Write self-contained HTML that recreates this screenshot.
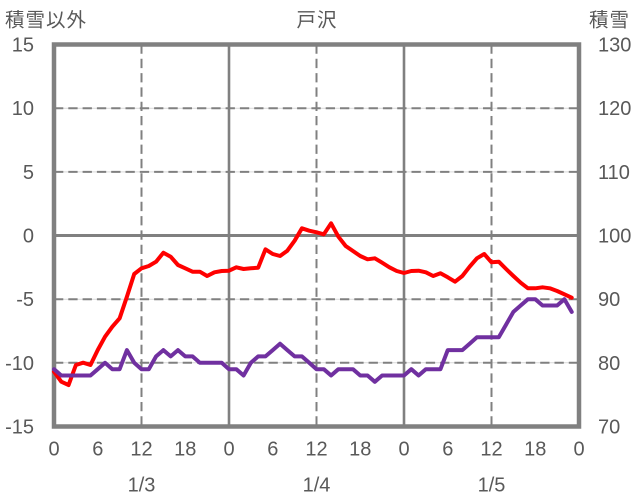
<!DOCTYPE html>
<html><head><meta charset="utf-8"><style>
html,body{margin:0;padding:0;background:#fff;}
svg{display:block;}
text{font-family:"Liberation Sans","Noto Sans CJK JP",sans-serif;fill:#595959;}
</style></head><body>
<svg width="636" height="501" viewBox="0 0 636 501" xmlns="http://www.w3.org/2000/svg">
<rect width="636" height="501" fill="#fff"/>
<!-- light underlying grid -->
<g stroke="#d9d9d9" stroke-width="1">
<line x1="54" y1="108.2" x2="579" y2="108.2"/>
<line x1="54" y1="171.9" x2="579" y2="171.9"/>
<line x1="54" y1="299.2" x2="579" y2="299.2"/>
<line x1="54" y1="362.8" x2="579" y2="362.8"/>
</g>
<!-- dashed grid -->
<g stroke="#808080" stroke-width="2" stroke-dasharray="9.3,5">
<line x1="54" y1="108.2" x2="579" y2="108.2"/>
<line x1="54" y1="171.9" x2="579" y2="171.9"/>
<line x1="54" y1="299.2" x2="579" y2="299.2"/>
<line x1="54" y1="362.8" x2="579" y2="362.8"/>
<line x1="141.5" y1="44.5" x2="141.5" y2="426.5"/>
<line x1="316.5" y1="44.5" x2="316.5" y2="426.5"/>
<line x1="491.5" y1="44.5" x2="491.5" y2="426.5"/>
</g>
<!-- solid grid -->
<g stroke="#808080">
<line x1="229" y1="44.5" x2="229" y2="426.5" stroke-width="2.6"/>
<line x1="404" y1="44.5" x2="404" y2="426.5" stroke-width="2.6"/>
<line x1="54" y1="235.5" x2="579" y2="235.5" stroke-width="3"/>
</g>
<!-- border -->
<rect x="54" y="44.5" width="525" height="382" fill="none" stroke="#808080" stroke-width="4.5"/>

<!-- red series -->
<polyline fill="none" stroke="#ff0000" stroke-width="4" stroke-linejoin="round" stroke-linecap="round" points="
54,371.7 61.29,381.7 68.58,385 75.88,365 83.17,362.7 90.46,365 97.75,350 105.04,336.7 112.33,326.7 119.63,318.3
126.92,296.7 134.21,274 141.5,268.3 148.79,266 156.08,261.7 163.38,252.7 170.67,256.7 177.96,265 185.25,268.3 192.54,271.7
199.83,271.7 207.13,276 214.42,272.3 221.71,271 229,270.7 236.29,267.3 243.58,269 250.88,268.3 258.17,267.7 265.46,249.3
272.75,254 280.04,256 287.33,250.7 294.63,240.7 301.92,228.3 309.21,230.7 316.5,232.3 323.79,234.3 331.08,223.3 338.38,236.7
345.67,246 352.96,251 360.25,256 367.54,259.3 374.83,258.3 382.13,262.7 389.42,267.3 396.71,271 404,273 411.29,271
418.58,270.7 425.88,272.3 433.17,276 440.46,273.3 447.75,277.3 455.04,281.7 462.33,276 469.63,266.7 476.92,258.3 484.21,254
491.5,262.3 498.79,261.7 506.08,269 513.38,276 520.67,282.7 527.96,288.3 535.25,288.3 542.54,287.3 549.83,288.3 557.13,291
564.42,294.3 571.71,297.7"/>

<!-- purple series -->
<polyline fill="none" stroke="#7030a0" stroke-width="4" stroke-linejoin="round" stroke-linecap="round" points="
54,369.2 61.29,375.5 68.58,375.5 75.88,375.5 83.17,375.5 90.46,375.5 97.75,369.2 105.04,362.8 112.33,369.2 119.63,369.2
126.92,350.1 134.21,362.8 141.5,369.2 148.79,369.2 156.08,356.4 163.38,350.1 170.67,356.4 177.96,350.1 185.25,356.4 192.54,356.4
199.83,362.8 207.13,362.8 214.42,362.8 221.71,362.8 229,369.2 236.29,369.2 243.58,375.5 250.88,362.8 258.17,356.4 265.46,356.4
272.75,350.1 280.04,343.7 287.33,350.1 294.63,356.4 301.92,356.4 309.21,362.8 316.5,369.2 323.79,369.2 331.08,375.5 338.38,369.2
345.67,369.2 352.96,369.2 360.25,375.5 367.54,375.5 374.83,381.8 382.13,375.5 389.42,375.5 396.71,375.5 404,375.5 411.29,369.2
418.58,375.5 425.88,369.2 433.17,369.2 440.46,369.2 447.75,350.1 455.04,350.1 462.33,350.1 469.63,343.7 476.92,337.3 484.21,337.3
491.5,337.3 498.79,337.3 506.08,324.6 513.38,311.9 520.67,305.5 527.96,299.2 535.25,299.2 542.54,305.5 549.83,305.5 557.13,305.5
564.42,299.2 571.71,311.9"/>

<!-- titles -->
<text x="5" y="26.5" font-size="19.5" letter-spacing="1">積雪以外</text>
<text x="317" y="26.5" font-size="19.5" text-anchor="middle" letter-spacing="1">戸沢</text>
<text x="589" y="26.5" font-size="19.5" letter-spacing="1">積雪</text>

<!-- left y labels -->
<g font-size="20" text-anchor="end">
<text x="34" y="51.5">15</text>
<text x="34" y="115.2">10</text>
<text x="34" y="178.9">5</text>
<text x="34" y="242.5">0</text>
<text x="34" y="306.2">-5</text>
<text x="34" y="369.8">-10</text>
<text x="34" y="433.5">-15</text>
</g>
<!-- right y labels -->
<g font-size="20" text-anchor="start">
<text x="598" y="51.5">130</text>
<text x="598" y="115.2">120</text>
<text x="598" y="178.9">110</text>
<text x="598" y="242.5">100</text>
<text x="598" y="306.2">90</text>
<text x="598" y="369.8">80</text>
<text x="598" y="433.5">70</text>
</g>
<!-- x tick labels -->
<g font-size="20" text-anchor="middle">
<text x="54" y="455.5">0</text>
<text x="97.75" y="455.5">6</text>
<text x="141.5" y="455.5">12</text>
<text x="185.25" y="455.5">18</text>
<text x="229" y="455.5">0</text>
<text x="272.75" y="455.5">6</text>
<text x="316.5" y="455.5">12</text>
<text x="360.25" y="455.5">18</text>
<text x="404" y="455.5">0</text>
<text x="447.75" y="455.5">6</text>
<text x="491.5" y="455.5">12</text>
<text x="535.25" y="455.5">18</text>
<text x="579" y="455.5">0</text>
</g>
<g font-size="20" text-anchor="middle">
<text x="141.5" y="491.5">1/3</text>
<text x="316.5" y="491.5">1/4</text>
<text x="491.5" y="491.5">1/5</text>
</g>
</svg>
</body></html>
